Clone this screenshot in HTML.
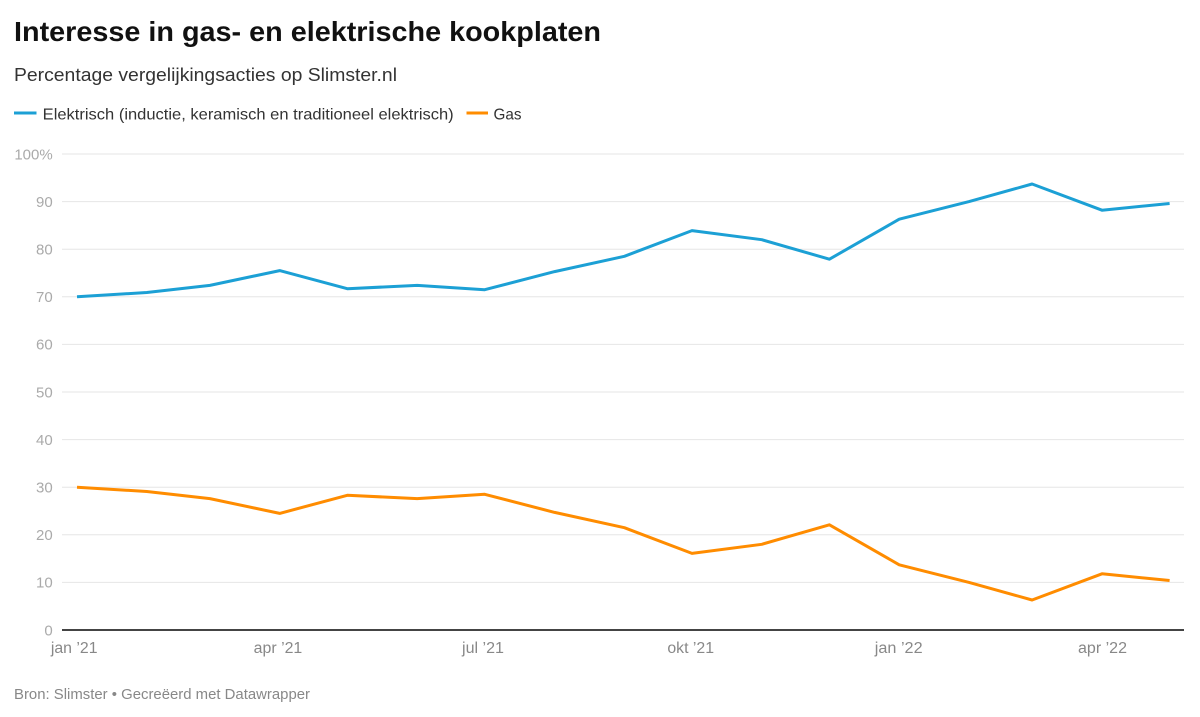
<!DOCTYPE html>
<html>
<head>
<meta charset="utf-8">
<style>
  html, body { margin: 0; padding: 0; background: #ffffff; }
  svg { display: block; }
  text { font-family: "Liberation Sans", Arial, sans-serif; }
</style>
</head>
<body>
<svg width="1200" height="717" viewBox="0 0 1200 717" xmlns="http://www.w3.org/2000/svg">
  <rect x="0" y="0" width="1200" height="717" fill="#ffffff"/>

  <!-- Title -->
  <text x="14" y="41" font-size="28" font-weight="bold" fill="#111" textLength="587" lengthAdjust="spacingAndGlyphs">Interesse in gas- en elektrische kookplaten</text>
  <!-- Subtitle -->
  <text x="14" y="81" font-size="18.5" fill="#333" textLength="383" lengthAdjust="spacingAndGlyphs">Percentage vergelijkingsacties op Slimster.nl</text>

  <!-- Legend -->
  <line x1="14" y1="113" x2="36.5" y2="113" stroke="#1ca0d5" stroke-width="3"/>
  <text x="42.7" y="119.3" font-size="16" fill="#333" textLength="411" lengthAdjust="spacingAndGlyphs">Elektrisch (inductie, keramisch en traditioneel elektrisch)</text>
  <line x1="466.5" y1="113" x2="488" y2="113" stroke="#ff8c00" stroke-width="3"/>
  <text x="493.5" y="119.3" font-size="16" fill="#333" textLength="28" lengthAdjust="spacingAndGlyphs">Gas</text>

  <!-- Gridlines -->
  <g stroke="#e6e6e6" stroke-width="1">
    <line x1="62" y1="154" x2="1184" y2="154"/>
    <line x1="62" y1="201.6" x2="1184" y2="201.6"/>
    <line x1="62" y1="249.2" x2="1184" y2="249.2"/>
    <line x1="62" y1="296.8" x2="1184" y2="296.8"/>
    <line x1="62" y1="344.4" x2="1184" y2="344.4"/>
    <line x1="62" y1="392" x2="1184" y2="392"/>
    <line x1="62" y1="439.6" x2="1184" y2="439.6"/>
    <line x1="62" y1="487.2" x2="1184" y2="487.2"/>
    <line x1="62" y1="534.8" x2="1184" y2="534.8"/>
    <line x1="62" y1="582.4" x2="1184" y2="582.4"/>
  </g>

  <!-- Y labels -->
  <g font-size="15" fill="#aaaaaa" text-anchor="end">
    <text x="52.7" y="159.3">100%</text>
    <text x="52.7" y="206.9">90</text>
    <text x="52.7" y="254.5">80</text>
    <text x="52.7" y="302.1">70</text>
    <text x="52.7" y="349.7">60</text>
    <text x="52.7" y="397.3">50</text>
    <text x="52.7" y="444.9">40</text>
    <text x="52.7" y="492.5">30</text>
    <text x="52.7" y="540.1">20</text>
    <text x="52.7" y="587.7">10</text>
    <text x="52.7" y="635.3">0</text>
  </g>

  <!-- Axis line -->
  <line x1="62" y1="630" x2="1184" y2="630" stroke="#444" stroke-width="2"/>

  <!-- X labels -->
  <g font-size="15.5" fill="#888888" text-anchor="middle">
    <text x="74.2" y="653" textLength="46.7" lengthAdjust="spacingAndGlyphs">jan ’21</text>
    <text x="278" y="653" textLength="48.6" lengthAdjust="spacingAndGlyphs">apr ’21</text>
    <text x="483" y="653" textLength="42" lengthAdjust="spacingAndGlyphs">jul ’21</text>
    <text x="690.7" y="653" textLength="46.7" lengthAdjust="spacingAndGlyphs">okt ’21</text>
    <text x="898.7" y="653" textLength="47.8" lengthAdjust="spacingAndGlyphs">jan ’22</text>
    <text x="1102.5" y="653" textLength="49" lengthAdjust="spacingAndGlyphs">apr ’22</text>
  </g>

  <!-- Series: Elektrisch -->
  <polyline fill="none" stroke="#1ca0d5" stroke-width="3" stroke-linejoin="round" stroke-linecap="butt"
    points="77,296.8 146.8,292.5 209.9,285.4 279.7,270.6 347.3,288.7 417.2,285.4 484.7,289.7 554.6,271.6 624.4,256.3 692,230.6 761.8,239.7 829.4,259.2 899.2,219.2 969.1,201.6 1032.1,184 1102,210.2 1169.6,203.5"/>

  <!-- Series: Gas -->
  <polyline fill="none" stroke="#ff8c00" stroke-width="3" stroke-linejoin="round" stroke-linecap="butt"
    points="77,487.2 146.8,491.5 209.9,498.6 279.7,513.4 347.3,495.3 417.2,498.6 484.7,494.3 554.6,512.4 624.4,527.7 692,553.4 761.8,544.3 829.4,524.8 899.2,564.8 969.1,582.4 1032.1,600 1102,573.8 1169.6,580.5"/>

  <!-- Footer -->
  <text x="14" y="699" font-size="14.5" fill="#888888" textLength="296" lengthAdjust="spacingAndGlyphs">Bron: Slimster • Gecreëerd met Datawrapper</text>
</svg>
</body>
</html>
